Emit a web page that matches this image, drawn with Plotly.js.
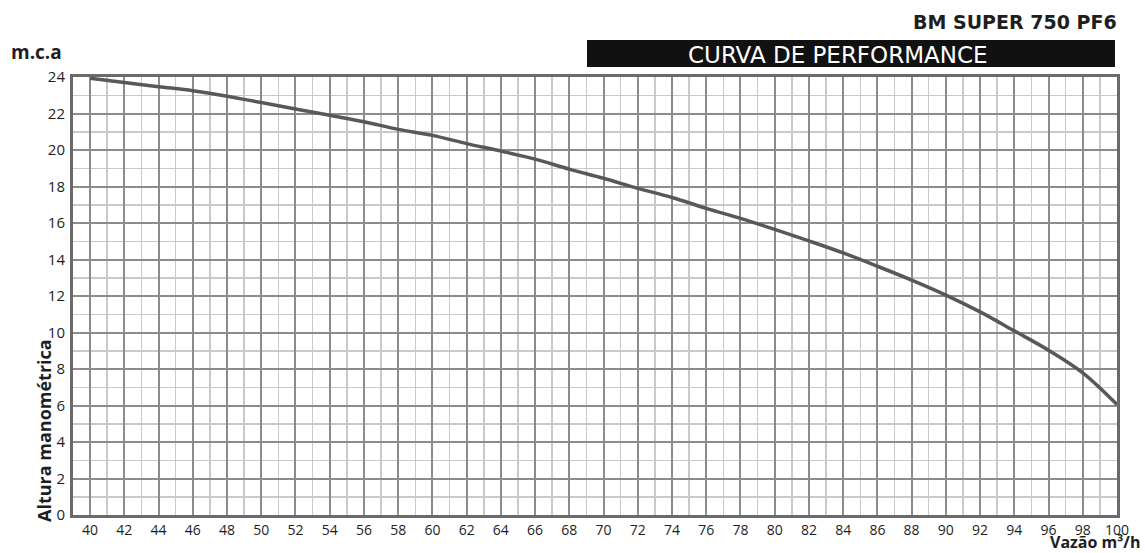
<!DOCTYPE html>
<html>
<head>
<meta charset="utf-8">
<script src="https://cdn.plot.ly/plotly-3.0.1.min.js"></script>
<style>html,body{margin:0;padding:0;background:#fff;}#chart{width:1145px;height:553px;}</style>
</head>
<body>
<div id="chart"></div>
<script>
// Data
const flow = [40, 42, 44, 46, 48, 50, 52, 54, 56, 58, 60, 62, 64, 66, 68, 70, 72, 74, 76, 78, 80, 82, 84, 86, 88, 90, 92, 94, 96, 98, 100];
const head = [23.93, 23.7, 23.47, 23.25, 22.95, 22.6, 22.25, 21.9, 21.55, 21.13, 20.8, 20.35, 19.94, 19.5, 18.95, 18.45, 17.9, 17.4, 16.8, 16.25, 15.65, 15.02, 14.36, 13.63, 12.87, 12.05, 11.13, 10.09, 9.03, 7.79, 6.05];
const xTicks = [40, 42, 44, 46, 48, 50, 52, 54, 56, 58, 60, 62, 64, 66, 68, 70, 72, 74, 76, 78, 80, 82, 84, 86, 88, 90, 92, 94, 96, 98, 100];
const yTicks = [0, 2, 4, 6, 8, 10, 12, 14, 16, 18, 20, 22, 24];
const chartTitle = "BM SUPER 750 PF6";
const bannerText = "CURVA DE PERFORMANCE";
const yUnit = "m.c.a";
const yLabel = "Altura manométrica";
const xLabel = "Vazão m³/h";

// plot area in pixels
const L = 73, R = 1117, T = 77, B = 515;
const W = 1145, H = 553;
const px = x => (x - L) / (R - L);
const py = y => (B - y) / (B - T);

const FONT = "Open Sans, DejaVu Sans, sans-serif";
const WIDEFONT = "DejaVu Sans, Open Sans, sans-serif";
const txt = "#1e1e1e";

const trace = {
  x: flow, y: head, type: "scatter", mode: "lines",
  line: {color: "#58585a", width: 3.5, shape: "spline", smoothing: 1},
  hoverinfo: "skip", showlegend: false
};

const layout = {
  width: W, height: H,
  margin: {l: L, r: W - R, t: T, b: H - B, pad: 0},
  paper_bgcolor: "#ffffff", plot_bgcolor: "#ffffff",
  font: {family: FONT, color: txt, size: 14},
  xaxis: {
    range: [39, 100], tickmode: "array", tickvals: xTicks, ticktext: xTicks.map(String),
    showgrid: true, gridcolor: "#8c8c8c", gridwidth: 2,
    minor: {dtick: 1, tick0: 39, showgrid: true, gridcolor: "#c9c9c9", gridwidth: 1.5},
    showline: true, mirror: true, linecolor: "#6a6a6a", linewidth: 3,
    ticks: "", zeroline: false, tickfont: {size: 14, color: txt, family: FONT},
    ticklabelstandoff: 0, fixedrange: true
  },
  yaxis: {
    range: [0, 24], tickmode: "array", tickvals: yTicks, ticktext: yTicks.map(String),
    showgrid: true, gridcolor: "#8c8c8c", gridwidth: 2,
    minor: {dtick: 1, tick0: 0, showgrid: true, gridcolor: "#c9c9c9", gridwidth: 1.5},
    showline: true, mirror: true, linecolor: "#6a6a6a", linewidth: 3,
    ticks: "", zeroline: false, tickfont: {size: 15, color: txt, family: FONT},
    ticklabelstandoff: 2, fixedrange: true
  },
  shapes: [{
    type: "rect", xref: "paper", yref: "paper",
    x0: px(587), x1: px(1115), y0: py(67), y1: py(40),
    fillcolor: "#111111", line: {width: 0}
  }],
  annotations: [
    {text: chartTitle, xref: "paper", yref: "paper", x: px(1119), y: py(22), xanchor: "right", yanchor: "middle",
     showarrow: false, font: {family: WIDEFONT, size: 19, color: txt, weight: "bold"}},
    {text: bannerText, xref: "paper", yref: "paper", x: px(838), y: py(55), xanchor: "center", yanchor: "middle",
     showarrow: false, font: {family: WIDEFONT, size: 23, color: "#ffffff"}},
    {text: yUnit, xref: "paper", yref: "paper", x: px(9), y: py(52), xanchor: "left", yanchor: "middle",
     showarrow: false, font: {family: FONT, size: 19, color: txt, weight: "bold"}},
    {text: yLabel, xref: "paper", yref: "paper", x: px(44), y: py(431), xanchor: "center", yanchor: "middle",
     textangle: -90, showarrow: false, font: {family: FONT, size: 18, color: txt, weight: "bold"}},
    {text: xLabel, xref: "paper", yref: "paper", x: px(1143), y: py(542), xanchor: "right", yanchor: "middle",
     showarrow: false, font: {family: FONT, size: 16, color: txt, weight: "bold"}}
  ]
};

Plotly.newPlot("chart", [trace], layout, {displayModeBar: false, staticPlot: true});
</script>
</body>
</html>
